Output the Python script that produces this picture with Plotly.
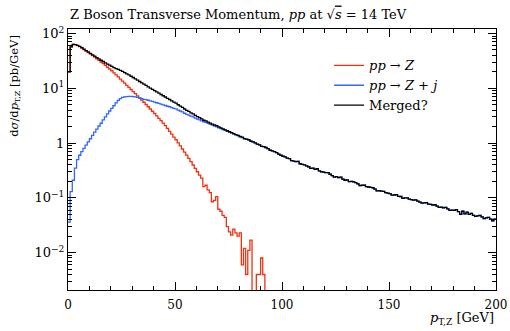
import plotly.graph_objects as go

# ---------------- data (1 GeV bins, values in pb/GeV) ----------------
bin_width_gev = 1

pp_to_z = [
    20, 57, 63, 62.5, 60, 57.5, 54.1, 50.8, 47.8, 44.9,
    42.2, 39.4, 36.9, 34.5, 32.3, 30.2, 28.1, 26.1, 24.2, 22.5,
    20.9, 19.1, 17.5, 16.1, 14.7, 13.5, 12.4, 11.3, 10.4, 9.5,
    8.7, 7.96, 7.28, 6.65, 6.08, 5.56, 5.06, 4.60, 4.19, 3.81,
    3.47, 3.13, 2.83, 2.56, 2.31, 2.09, 1.85, 1.64, 1.46, 1.29,
    1.15, 1.01, 0.887, 0.78, 0.685, 0.603, 0.525, 0.457, 0.398, 0.347,
    0.30, 0.26, 0.23, 0.16, 0.17, 0.14, 0.125, 0.085, 0.09, 0.105,
    0.062, 0.057, 0.048, 0.044, 0.030, 0.024, 0.021, 0.027, 0.023, 0.020,
    0.023, 0.006, 0.012, 0.004, 0.011, 0.017, 1e-5, 1e-5, 0.004, 0.004,
    0.008, 0.004, 1e-5,
]

pp_to_zj = [
    0.036, 0.13, 0.21, 0.35, 0.5, 0.6, 0.7, 0.8, 0.92, 1.05,
    1.2, 1.38, 1.58, 1.8, 2.05, 2.3, 2.65, 3.0, 3.4, 3.85,
    4.3, 4.8, 5.4, 6.0, 6.5, 6.8, 6.95, 7.05, 7.1, 7.1,
    7.05, 6.95, 6.8, 6.65, 6.5, 6.3, 6.2, 6.05, 5.9, 5.75,
    5.6, 5.45, 5.3, 5.15, 5.0, 4.85, 4.7, 4.6, 4.45, 4.3,
    4.2, 4.0, 3.85, 3.7, 3.5, 3.35, 3.25, 3.1, 3.0, 2.85,
    2.75, 2.65, 2.55, 2.45, 2.38, 2.28, 2.2, 2.12, 2.05, 1.97,
    1.9, 1.83, 1.77, 1.7, 1.64, 1.58, 1.52, 1.46, 1.41, 1.36,
    1.30, 1.26, 1.20, 1.17, 1.14, 1.08, 1.05, 1.01, 0.96, 0.93,
    0.87, 0.86, 0.83, 0.79, 0.74, 0.72, 0.70, 0.67, 0.63, 0.60,
    0.575, 0.56, 0.53, 0.52, 0.48, 0.47, 0.46, 0.465, 0.42, 0.41,
    0.40, 0.385, 0.37, 0.345, 0.35, 0.33, 0.34, 0.31, 0.30, 0.295,
    0.288, 0.29, 0.27, 0.255, 0.24, 0.245, 0.235, 0.238, 0.22, 0.21,
    0.214, 0.198, 0.20, 0.196, 0.19, 0.18, 0.168, 0.17, 0.17, 0.16,
    0.158, 0.155, 0.153, 0.145, 0.134, 0.135, 0.133, 0.132, 0.125, 0.122,
    0.12, 0.112, 0.113, 0.115, 0.107, 0.106, 0.098, 0.10, 0.10, 0.095,
    0.093, 0.091, 0.092, 0.087, 0.084, 0.080, 0.081, 0.082, 0.077, 0.076,
    0.074, 0.075, 0.071, 0.067, 0.068, 0.066, 0.067, 0.063, 0.059, 0.060,
    0.059, 0.061, 0.056, 0.050, 0.057, 0.051, 0.055, 0.050, 0.052, 0.048,
    0.046, 0.047, 0.048, 0.045, 0.042, 0.043, 0.044, 0.041, 0.038, 0.041,
]

merged = [
    20, 57, 63, 62.5, 60.5, 58.2, 55, 51.8, 48.8, 46,
    43.4, 40.8, 38.5, 36.3, 34.4, 32.5, 30.8, 29.1, 27.6, 26.4,
    25.2, 23.9, 22.9, 22.1, 21.2, 20.3, 19.35, 18.35, 17.5, 16.6,
    15.75, 14.9, 14.1, 13.3, 12.6, 11.9, 11.3, 10.65, 10.1, 9.56,
    9.07, 8.58, 8.13, 7.71, 7.31, 6.94, 6.55, 6.24, 5.91, 5.59,
    5.35, 5.01, 4.74, 4.48, 4.19, 3.95, 3.78, 3.56, 3.4, 3.2,
    3.05, 2.91, 2.77, 2.61, 2.55, 2.42, 2.32, 2.21, 2.14, 2.08,
    1.97, 1.89, 1.82, 1.74, 1.68, 1.61, 1.55, 1.49, 1.43, 1.38,
    1.32, 1.28, 1.21, 1.18, 1.15, 1.08, 1.05, 1.01, 0.96, 0.93,
    0.87, 0.86, 0.83, 0.79, 0.74, 0.72, 0.70, 0.67, 0.63, 0.60,
    0.575, 0.56, 0.53, 0.52, 0.48, 0.47, 0.46, 0.465, 0.42, 0.41,
    0.40, 0.385, 0.37, 0.345, 0.35, 0.33, 0.34, 0.31, 0.30, 0.295,
    0.288, 0.29, 0.27, 0.255, 0.24, 0.245, 0.235, 0.238, 0.22, 0.21,
    0.214, 0.198, 0.20, 0.196, 0.19, 0.18, 0.168, 0.17, 0.17, 0.16,
    0.158, 0.155, 0.153, 0.145, 0.134, 0.135, 0.133, 0.132, 0.125, 0.122,
    0.12, 0.112, 0.113, 0.115, 0.107, 0.106, 0.098, 0.10, 0.10, 0.095,
    0.093, 0.091, 0.092, 0.087, 0.084, 0.080, 0.081, 0.082, 0.077, 0.076,
    0.074, 0.075, 0.071, 0.067, 0.068, 0.066, 0.067, 0.063, 0.059, 0.060,
    0.059, 0.061, 0.056, 0.050, 0.057, 0.051, 0.055, 0.050, 0.052, 0.048,
    0.046, 0.047, 0.048, 0.045, 0.042, 0.043, 0.044, 0.041, 0.038, 0.041,
]

series_names = ["<i>pp</i> → <i>Z</i>", "<i>pp</i> → <i>Z</i> + <i>j</i>", "Merged?"]
series_colors = ["#EE3311", "#3366FF", "#000000"]

x_tick_vals = [0, 50, 100, 150, 200]
x_tick_text = ["0", "50", "100", "150", "200"]
y_tick_vals = [100, 10, 1, 0.1, 0.01]
y_tick_text = ["10<sup>2</sup>", "10<sup>1</sup>", "1", "10<sup>−1</sup>", "10<sup>−2</sup>"]

FONT = "DejaVu Serif"


def step_xy(values):
    edges = [i * bin_width_gev for i in range(len(values) + 1)]
    return edges, list(values) + [values[-1]]


fig = go.Figure()
for vals, name, col in zip([pp_to_z, pp_to_zj, merged], series_names, series_colors):
    xs, ys = step_xy(vals)
    fig.add_trace(go.Scatter(x=xs, y=ys, mode="lines", name=name,
                             line=dict(color=col, width=1.3, shape="hv")))

axis_common = dict(showline=True, linecolor="black", linewidth=1, mirror="ticks",
                   ticks="inside", ticklen=8, tickcolor="black", tickwidth=1,
                   showgrid=False, zeroline=False, automargin=False)

fig.update_xaxes(range=[0, 200], tickmode="array", tickvals=x_tick_vals, ticktext=x_tick_text,
                 ticklabelstandoff=4, tickfont=dict(family=FONT, size=12, color="black"),
                 minor=dict(ticks="inside", ticklen=4, dtick=10, tickcolor="black", showgrid=False),
                 **axis_common)
fig.update_yaxes(type="log", range=[-2.681, 2.082], tickmode="array", tickvals=y_tick_vals,
                 ticktext=y_tick_text, tickfont=dict(family=FONT, size=13, color="black"),
                 minor=dict(ticks="inside", ticklen=4, dtick="D1", tickcolor="black", showgrid=False),
                 **axis_common)

fig.update_layout(
    width=510, height=331, autosize=False,
    margin=dict(l=68, r=14, t=29, b=41, autoexpand=False),
    paper_bgcolor="white", plot_bgcolor="white",
    font=dict(family=FONT, size=13, color="black"),
    title=dict(text="Z Boson Transverse Momentum, <i>pp</i> at √<span style='text-decoration:overline'><i>s</i></span> = 14 TeV",
               x=70 / 510, xanchor="left", xref="container",
               y=1 - 14 / 331, yanchor="middle", yref="container",
               font=dict(family=FONT, size=13, color="black")),
    legend=dict(x=0.61, y=0.918, xanchor="left", yanchor="top",
                bgcolor="rgba(0,0,0,0)", font=dict(family=FONT, size=13),
                itemwidth=30, tracegroupgap=0),
    showlegend=True,
)

fig.add_annotation(text="<i>p</i><sub>T,Z</sub> [GeV]", xref="paper", yref="paper",
                   x=1, y=-0.07, xanchor="right", yanchor="top", showarrow=False,
                   font=dict(family=FONT, size=13, color="black"))
fig.add_annotation(text="d<i>σ</i>/d<i>p</i><sub>T,Z</sub> [pb/GeV]", xref="paper", yref="paper",
                   x=-0.124, y=0.985, xanchor="center", yanchor="top", textangle=-90,
                   showarrow=False, font=dict(family=FONT, size=11.5, color="black"))

fig.write_html("out.html")
